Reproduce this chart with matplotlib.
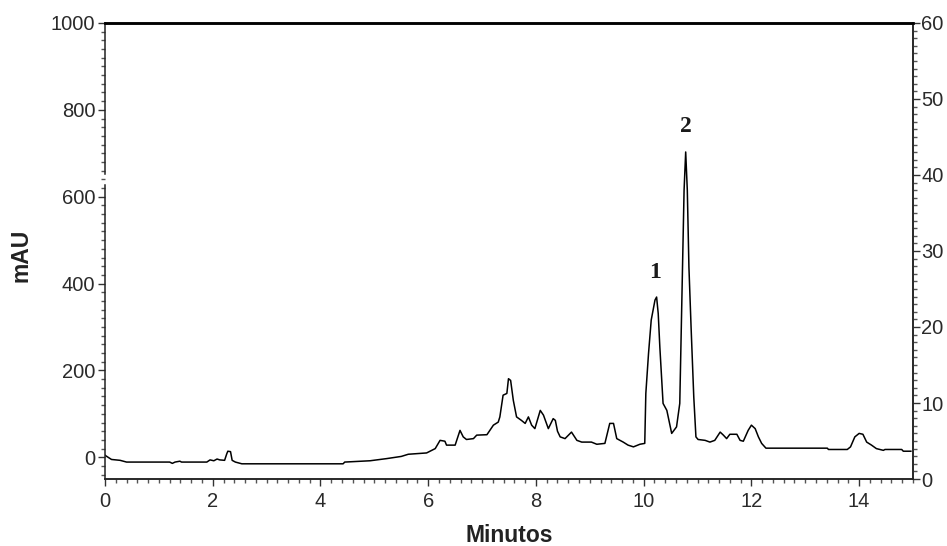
import numpy as np
import matplotlib.pyplot as plt
from matplotlib.ticker import MultipleLocator

# chromatogram: time (min) and absorbance (mAU)
tiempo = [0.0, 0.02, 0.12, 0.28, 0.40, 1.20, 1.25, 1.30, 1.39, 1.42, 1.89, 1.95, 2.02,
          2.08, 2.13, 2.22, 2.26, 2.28, 2.33, 2.36, 2.42, 2.54, 4.42, 4.45, 4.92, 5.23,
          5.50, 5.63, 5.97, 6.13, 6.22, 6.31, 6.34, 6.50, 6.59, 6.65, 6.71, 6.84, 6.90,
          7.09, 7.21, 7.30, 7.33, 7.39, 7.46, 7.49, 7.53, 7.58, 7.64, 7.73, 7.80, 7.86,
          7.92, 7.98, 8.08, 8.14, 8.23, 8.32, 8.36, 8.40, 8.45, 8.54, 8.66, 8.76, 8.85,
          9.03, 9.13, 9.28, 9.37, 9.44, 9.50, 9.62, 9.71, 9.81, 9.93, 10.02, 10.04, 10.09,
          10.14, 10.21, 10.24, 10.27, 10.30, 10.36, 10.43, 10.52, 10.61, 10.67, 10.72,
          10.75, 10.78, 10.81, 10.84, 10.88, 10.93, 10.97, 11.01, 11.14, 11.23, 11.32,
          11.42, 11.48, 11.54, 11.60, 11.73, 11.79, 11.85, 11.94, 12.00, 12.07, 12.13,
          12.19, 12.27, 13.41, 13.43, 13.78, 13.84, 13.92, 14.00, 14.07, 14.14, 14.23,
          14.32, 14.45, 14.48, 14.79, 14.82, 14.96]
mau = [5, 3, -5, -7, -11, -11, -14, -11, -9, -11, -11, -6, -8,
       -4, -6, -7, 8, 14, 13, -7, -11, -15, -15, -11, -8, -3,
       2, 7, 10, 20, 39, 37, 28, 28, 62, 47, 41, 43, 51,
       52, 74, 81, 93, 143, 147, 181, 177, 131, 93, 85, 78, 93,
       74, 66, 108, 97, 66, 89, 85, 60, 47, 43, 58, 39, 35,
       35, 30, 32, 78, 78, 43, 35, 28, 24, 30, 32, 147, 239,
       316, 362, 369, 331, 254, 124, 108, 55, 70, 124, 438,
       615, 703, 615, 438, 300, 139, 47, 41, 39, 35, 39,
       58, 51, 43, 53, 53, 39, 37, 62, 74, 66, 47,
       32, 21, 21, 18, 18, 24, 47, 55, 53, 35, 28,
       20, 16, 18, 18, 14, 14]

picos = ['1', '2']
picos_t = [10.21, 10.79]
picos_y = [426, 762]

tick_col = '#2a2a2a'
tick_size = 14.5

fig = plt.figure(figsize=(9.47, 5.46), dpi=100)
ax = fig.add_axes([0.1109, 0.1227, 0.8532, 0.8352])
ax.plot(tiempo, mau, color='black', lw=1.1)

ax.set_xlim(0, 15)
ax.set_ylim(-50, 1000)
ax.xaxis.set_major_locator(MultipleLocator(2))
ax.xaxis.set_minor_locator(MultipleLocator(0.2))
ax.yaxis.set_major_locator(MultipleLocator(200))
ax.yaxis.set_minor_locator(MultipleLocator(20))
ax.tick_params(which='major', length=5, width=1, color='#333333')
ax.tick_params(which='minor', length=3, width=1, color='#555555')
ax.tick_params(axis='x', pad=4)
ax.tick_params(axis='y', pad=2)
for lab in ax.get_xticklabels() + ax.get_yticklabels():
    lab.set_family('Liberation Sans')
    lab.set_fontsize(tick_size)
    lab.set_color(tick_col)

ax2 = ax.twinx()
ax2.set_ylim(0, 60)
ax2.yaxis.set_major_locator(MultipleLocator(10))
ax2.yaxis.set_minor_locator(MultipleLocator(1))
ax2.tick_params(which='major', length=5, width=1, color='#333333', pad=1)
ax2.tick_params(which='minor', length=3, width=1, color='#555555')
for lab in ax2.get_yticklabels():
    lab.set_family('Liberation Sans')
    lab.set_fontsize(tick_size)
    lab.set_color(tick_col)

for a in (ax, ax2):
    for s in a.spines.values():
        s.set_linewidth(1.1)
        s.set_color('#222222')
    a.spines['top'].set_linewidth(1.8)
    a.spines['top'].set_color('black')
    a.spines['left'].set_visible(False)

# left spine, with the small break seen between 600 and 800
ax.plot([0, 0], [-50, 628], color='#222222', lw=1.1, clip_on=False)
ax.plot([0, 0], [652, 1000], color='#222222', lw=1.1, clip_on=False)

for p, x, y in zip(picos, picos_t, picos_y):
    ax.text(x, y, p, ha='center', va='center', fontsize=17, fontweight='bold',
            family=['Liberation Serif', 'DejaVu Serif'], color='#1a1a1a')

ax.set_xlabel('Minutos', fontsize=16.5, fontweight='bold', family='Liberation Sans',
              color='#222222', va='center')
ax.xaxis.set_label_coords(0.5, -0.123)
ax.set_ylabel('mAU', fontsize=16.5, fontweight='bold', family='Liberation Sans',
              color='#222222', va='center')
ax.yaxis.set_label_coords(-0.104, 0.49)

plt.savefig('out.png', dpi=100)
